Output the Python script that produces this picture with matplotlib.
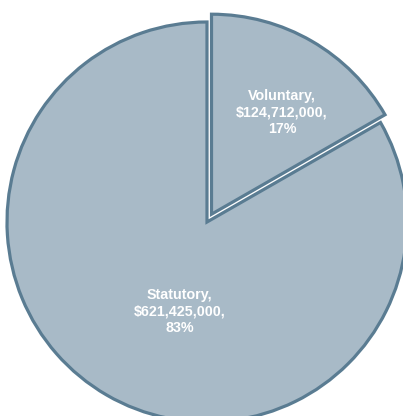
import matplotlib
matplotlib.use("Agg")
import matplotlib.pyplot as plt
import numpy as np

# Funding split
categories = ["Voluntary", "Statutory"]
amounts = [124712000, 621425000]

fill_color = "#a8bac7"
edge_color = "#5a7c92"

W, H = 403, 416
fig = plt.figure(figsize=(W / 100, H / 100), dpi=100)
ax = fig.add_axes([0, 0, 1, 1])

# pie centre and radius in pixels; axes work in units of the radius
cx, cy, R = 207, 222, 200.0

total = sum(amounts)
pcts = [round(100 * a / total) for a in amounts]

wedges, _ = ax.pie(
    amounts,
    radius=1.0,
    startangle=90,
    counterclock=False,
    explode=[0.045, 0],
    colors=[fill_color] * len(amounts),
    wedgeprops=dict(edgecolor=edge_color, linewidth=2.3, joinstyle="miter"),
    frame=True,
)
ax.set_xlim(-cx / R, (W - cx) / R)
ax.set_ylim(-(H - cy) / R, cy / R)
ax.set_aspect("equal")
ax.axis("off")

# Label positions (radius fraction, angle shift in degrees)
label_place = {"Voluntary": (0.62, -4.6), "Statutory": (0.47, 13.0)}
for w, cat, amt, pct in zip(wedges, categories, amounts, pcts):
    mid = np.deg2rad((w.theta1 + w.theta2) / 2 + label_place[cat][1])
    r = label_place[cat][0]
    ox, oy = w.center
    ax.text(ox + r * np.cos(mid), oy + r * np.sin(mid),
            f"{cat},\n${amt:,},\n{pct}%",
            ha="center", va="center", color="white", fontweight="bold",
            fontsize=10.3, family="Liberation Sans", linespacing=1.22)

fig.savefig("out.png", dpi=100)
